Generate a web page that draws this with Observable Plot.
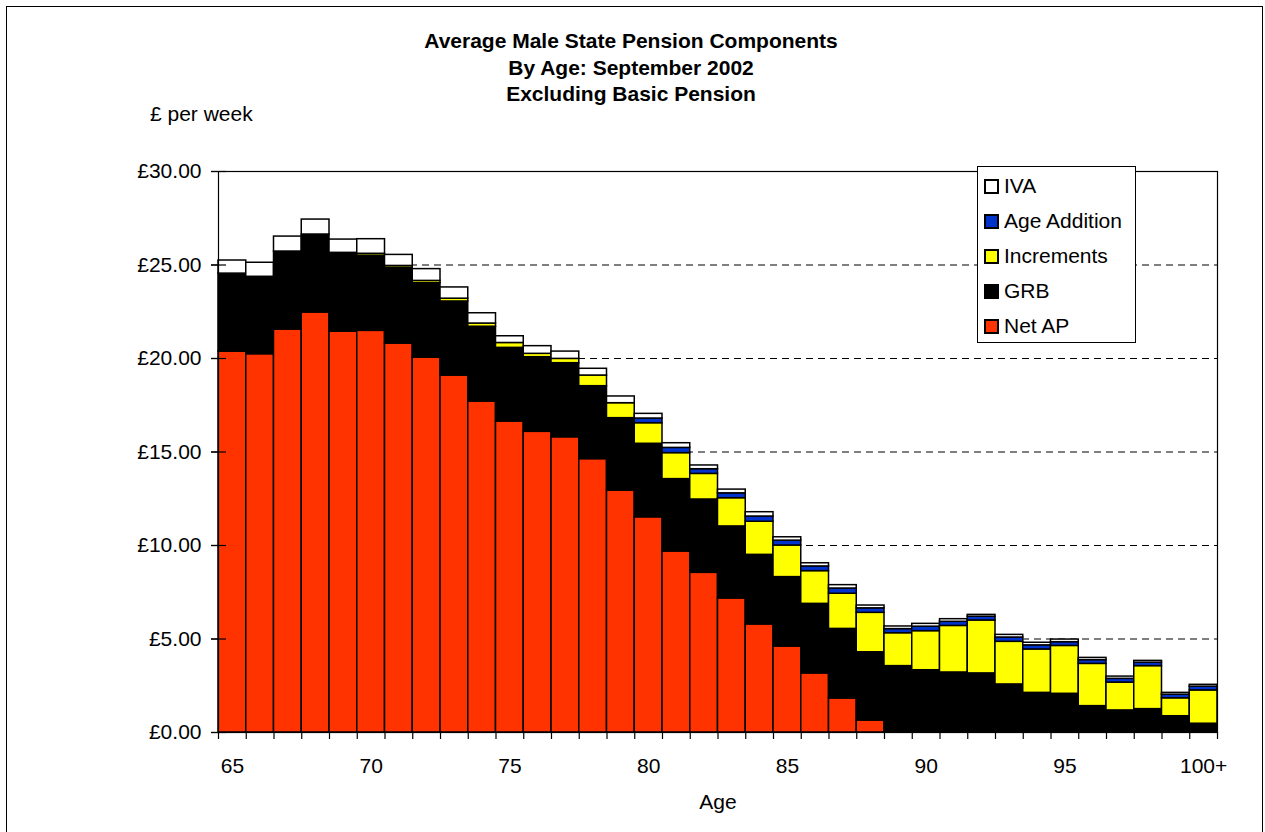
<!DOCTYPE html>
<html>
<head>
<meta charset="utf-8">
<script src="https://cdn.jsdelivr.net/npm/d3@7"></script>
<script src="https://cdn.jsdelivr.net/npm/@observablehq/plot@0.6"></script>
<style>
  body { margin: 0; background: #fff; font-family: "Liberation Sans", Arial, sans-serif; color: #000; }
  #wrap { position: relative; width: 1265px; height: 832px; overflow: hidden; background: #fff; }
  #border { position: absolute; left: 6px; top: 6px; width: 1257px; height: 850px; border: 1px solid #000; box-sizing: border-box; }
  #title { position: absolute; left: 0; top: 28px; width: 1262px; text-align: center; font-weight: bold; font-size: 21px; line-height: 26.7px; }
  #unit { position: absolute; left: 150px; top: 104px; font-size: 21px; line-height: 20px; white-space: nowrap; }
  #xlabel { position: absolute; left: 618px; width: 200px; top: 792px; text-align: center; font-size: 21px; line-height: 20px; }
  #chart { position: absolute; left: 0; top: 130px; }
  #legend { position: absolute; left: 977px; top: 166px; width: 159px; height: 177px; border: 1px solid #000; box-sizing: border-box; background: #fff; }
  .row { position: absolute; left: 6px; height: 20px; display: flex; align-items: center; font-size: 21px; line-height: 20px; white-space: nowrap; }
  .sw { width: 15px; height: 15px; border: 2px solid #000; box-sizing: border-box; margin-right: 5px; }
</style>
</head>
<body>
<div id="wrap">
  <div id="border"></div>
  <div id="title"></div>
  <div id="unit">£ per week</div>
  <div id="chart"></div>
  <div id="xlabel">Age</div>
  <div id="legend"></div>
</div>
<script>
// ---- data ----
const ages = [65,66,67,68,69,70,71,72,73,74,75,76,77,78,79,80,81,82,83,84,85,86,87,88,89,90,91,92,93,94,95,96,97,98,99,100];
const xTickValues = [65,70,75,80,85,90,95,100];
const xTickLabels = ["65","70","75","80","85","90","95","100+"];
const yTickValues = [0,5,10,15,20,25,30];
const gridValues = [5,10,15,20,25];

const netAP = [20.37,20.23,21.55,22.46,21.44,21.48,20.80,20.05,19.09,17.70,16.63,16.08,15.79,14.62,12.94,11.51,9.68,8.54,7.17,5.78,4.60,3.16,1.82,0.64,0,0,0,0,0,0,0,0,0,0,0,0];
const grb = [4.17,4.14,4.17,4.17,4.21,4.02,4.05,3.98,3.96,4.00,3.94,3.99,3.96,3.90,3.87,3.93,3.87,3.92,3.85,3.72,3.71,3.72,3.72,3.65,3.55,3.33,3.21,3.16,2.57,2.12,2.07,1.41,1.18,1.25,0.87,0.47];
const increments = [0,0,0,0,0,0.10,0.10,0.12,0.15,0.17,0.26,0.18,0.23,0.57,0.80,1.10,1.39,1.37,1.51,1.77,1.69,1.75,1.88,2.11,1.76,2.09,2.49,2.83,2.28,2.32,2.56,2.26,1.49,2.30,0.96,1.78];
const ageAddition = [0,0,0,0,0,0,0,0,0,0,0,0,0,0,0,0.25,0.28,0.25,0.26,0.28,0.26,0.25,0.28,0.24,0.22,0.24,0.22,0.20,0.23,0.22,0.20,0.20,0.20,0.18,0.19,0.20];
const iva = [0.70,0.75,0.80,0.80,0.71,0.78,0.59,0.63,0.60,0.55,0.36,0.41,0.39,0.36,0.36,0.25,0.25,0.20,0.20,0.23,0.18,0.17,0.18,0.15,0.14,0.15,0.14,0.10,0.14,0.14,0.14,0.12,0.12,0.10,0.10,0.10];

const seriesNames = ["Net AP","GRB","Increments","Age Addition","IVA"];   // bottom to top
const seriesColors = ["#FF3300","#000000","#FFFF00","#0033CC","#FFFFFF"];
const legendOrder = ["IVA","Age Addition","Increments","GRB","Net AP"];
const titleLines = ["Average Male State Pension Components","By Age: September 2002","Excluding Basic Pension"];

// ---- build long table ----
const seriesValues = [netAP, grb, increments, ageAddition, iva];
const rows = [];
ages.forEach((a, i) => {
  seriesNames.forEach((s, j) => {
    const v = seriesValues[j][i];
    if (v > 0) rows.push({age: a, series: s, value: v});
  });
});

document.getElementById("title").innerHTML = titleLines.map(t => `<div>${t}</div>`).join("");

const boundaries = ages.map(a => a - 0.5).concat([ages[ages.length - 1] + 0.5]);

const chart = Plot.plot({
  width: 1265,
  height: 702,
  marginTop: 41,
  marginBottom: 100,
  marginLeft: 218,
  marginRight: 48,
  style: {fontFamily: "Liberation Sans, Arial, sans-serif", fontSize: "21px", color: "#000", background: "transparent"},
  x: {type: "linear", domain: [boundaries[0], boundaries[boundaries.length - 1]]},
  y: {domain: [0, 30]},
  color: {domain: seriesNames, range: seriesColors},
  marks: [
    Plot.gridY(gridValues, {stroke: "#000", strokeOpacity: 1, strokeWidth: 1.2, strokeDasharray: "7,5"}),
    Plot.rect(rows, Plot.stackY({
      x: "age",
      x1: d => d.age - 0.5,
      x2: d => d.age + 0.5,
      y: "value",
      z: "series",
      fill: "series",
      order: seriesNames,
      stroke: "#000",
      strokeWidth: 1.5
    })),
    Plot.frame({stroke: "#000", strokeWidth: 1.2}),
    Plot.axisY(yTickValues, {tickSize: 7, tickPadding: 10, tickFormat: d => "£" + d.toFixed(2), fontSize: 21, label: null, strokeWidth: 1.2}),
    Plot.axisY(yTickValues, {tickSize: 15, dx: 8, tickFormat: () => "", label: null, strokeWidth: 1.2}),
    Plot.axisX(boundaries, {tickSize: 7, tickFormat: () => "", label: null, strokeWidth: 1.2}),
    Plot.axisX(xTickValues, {tickSize: 0, tickPadding: 26, tickFormat: d => xTickLabels[xTickValues.indexOf(d)], fontSize: 21, label: null})
  ]
});
document.getElementById("chart").appendChild(chart);

// ---- legend ----
const legend = document.getElementById("legend");
legendOrder.forEach((name, k) => {
  const row = document.createElement("div");
  row.className = "row";
  row.style.top = (9 + 35 * k) + "px";
  const sw = document.createElement("div");
  sw.className = "sw";
  sw.style.background = seriesColors[seriesNames.indexOf(name)];
  const tx = document.createElement("span");
  tx.textContent = name;
  row.appendChild(sw);
  row.appendChild(tx);
  legend.appendChild(row);
});
</script>
</body>
</html>
